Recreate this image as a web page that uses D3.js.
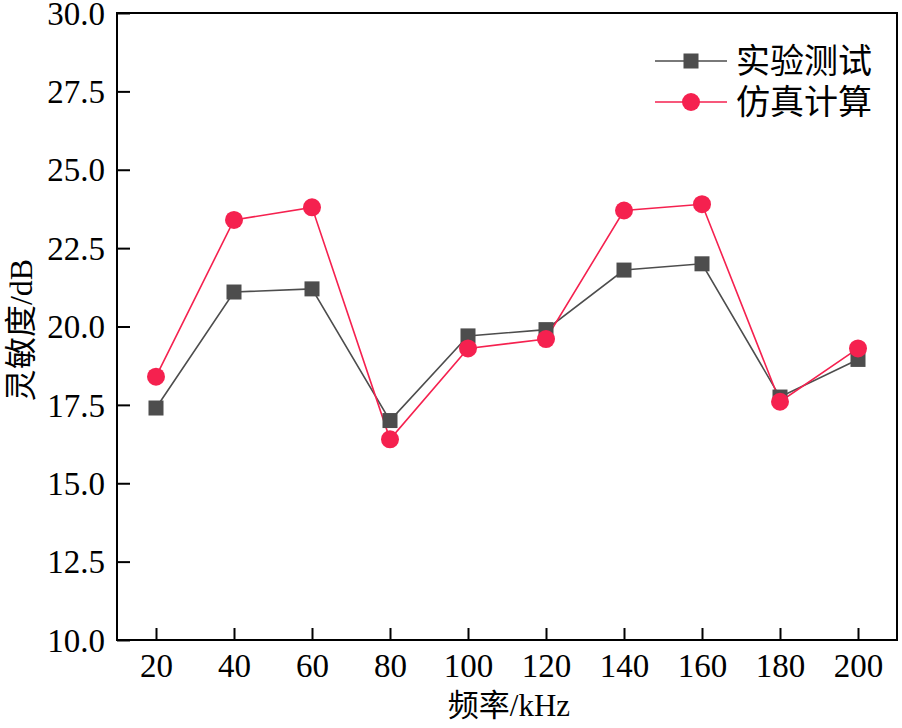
<!DOCTYPE html>
<html><head><meta charset="utf-8">
<script src="https://cdn.jsdelivr.net/npm/d3@7/dist/d3.min.js"></script>
<style>body{margin:0;background:#fff}</style>
</head><body><svg id="c" width="902" height="728"></svg>
<script>
const freqs = [20,40,60,80,100,120,140,160,180,200];
const measured = [17.4,21.1,21.2,17.0,19.7,19.9,21.8,22.0,17.75,18.95];
const simulated = [18.4,23.4,23.8,16.4,19.3,19.6,23.7,23.9,17.6,19.3];
const xTicks = [20,40,60,80,100,120,140,160,180,200];
const yTicks = [10,12.5,15,17.5,20,22.5,25,27.5,30];
const seriesNames = ["实验测试","仿真计算"];

const svg = d3.select("#c");
const L=117,R=897,T=13,B=640;
const x = d3.scaleLinear().domain([10,210]).range([L,R]);
const y = d3.scaleLinear().domain([10,30]).range([B,T]);
const num = "'Liberation Serif','Times New Roman',serif";
const cjk = "'Noto Sans CJK SC',sans-serif";
const grey="#4d4d4d", red="#f5214f";

svg.append("rect").attr("x",L).attr("y",T).attr("width",R-L).attr("height",B-T)
  .attr("fill","none").attr("stroke","#000").attr("stroke-width",2);

const xa = svg.append("g").attr("transform",`translate(0,${B})`)
  .call(d3.axisBottom(x).tickValues(xTicks).tickSize(-12).tickPadding(14).tickFormat(d3.format("d")));
const ya = svg.append("g").attr("transform",`translate(${L},0)`)
  .call(d3.axisLeft(y).tickValues(yTicks).tickSize(-13).tickPadding(12).tickFormat(d3.format(".1f")));
[xa,ya].forEach(a=>{
  a.select(".domain").remove();
  a.selectAll(".tick line").attr("stroke","#000").attr("stroke-width",2);
  a.selectAll(".tick text").attr("fill","#000").style("font-family",num).style("font-size","33px");
});
ya.selectAll(".tick text").attr("dy","0.34em").attr("x",-12);

const line = d3.line().x((d,i)=>x(freqs[i])).y(d=>y(d));
svg.append("path").datum(measured).attr("d",line).attr("fill","none").attr("stroke",grey).attr("stroke-width",1.6);
svg.append("path").datum(simulated).attr("d",line).attr("fill","none").attr("stroke",red).attr("stroke-width",1.6);

svg.selectAll(".sq").data(measured).enter().append("rect")
  .attr("x",(d,i)=>x(freqs[i])-7.5).attr("y",d=>y(d)-7.5).attr("width",15).attr("height",15).attr("fill",grey);
svg.selectAll(".ci").data(simulated).enter().append("circle")
  .attr("cx",(d,i)=>x(freqs[i])).attr("cy",d=>y(d)).attr("r",9).attr("fill",red);

const lg = svg.append("g");
[[grey,"sq"],[red,"ci"]].forEach(([c,t],i)=>{
  const yy = 61 + i*41;
  lg.append("line").attr("x1",655).attr("x2",727).attr("y1",yy).attr("y2",yy).attr("stroke",c).attr("stroke-width",1.6);
  if(t==="sq") lg.append("rect").attr("x",691-7.5).attr("y",yy-7.5).attr("width",15).attr("height",15).attr("fill",c);
  else lg.append("circle").attr("cx",691).attr("cy",yy).attr("r",9).attr("fill",c);
  lg.append("text").attr("x",736).attr("y",yy).attr("dy","0.36em").text(seriesNames[i])
    .style("font-family",cjk).style("font-size","34px").attr("fill","#000");
});

svg.append("text").attr("x",(L+R)/2+2).attr("y",716).attr("text-anchor","middle")
  .style("font-size","31px").attr("fill","#000")
  .html(`<tspan style="font-family:${cjk.replace(/'/g,"&quot;")}">频率</tspan><tspan style="font-family:${num.replace(/'/g,"&quot;")}">/kHz</tspan>`);
svg.append("text").attr("transform","translate(32,330) rotate(-90)").attr("text-anchor","middle")
  .style("font-size","32px").attr("fill","#000")
  .html(`<tspan style="font-family:${cjk.replace(/'/g,"&quot;")}">灵敏度</tspan><tspan style="font-family:${num.replace(/'/g,"&quot;")}">/dB</tspan>`);
</script></body></html>
